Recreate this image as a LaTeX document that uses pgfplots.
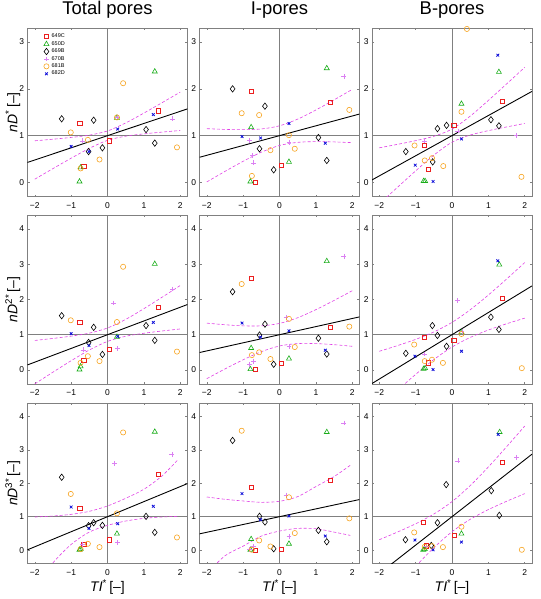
\documentclass[border=0pt]{standalone}
\usepackage{pgfplots}
\pgfplotsset{compat=1.18}
\usepackage{fontspec}
\setmainfont{Liberation Sans}
\definecolor{c649}{rgb}{0.92,0.12,0.12}
\definecolor{c650}{rgb}{0.1,0.68,0.1}
\definecolor{c669}{rgb}{0,0,0}
\definecolor{c670}{rgb}{0.86,0.5,0.95}
\definecolor{c681}{rgb}{0.97,0.64,0.12}
\definecolor{c682}{rgb}{0.05,0.05,0.85}
\definecolor{cband}{rgb}{0.88,0.25,0.9}
\definecolor{cframe}{rgb}{0.5,0.5,0.5}
\pgfplotsset{
  base/.style={
    scale only axis, width=160bp,
    xmin=-2.2, xmax=2.2,
    xtick={-2,-1,0,1,2}, xticklabels={−2,−1,0,1,2},
    tick align=inside, major tick length=2bp,
    axis line style={cframe, line width=0.5bp},
    tick style={cframe, line width=0.5bp},
    ticklabel style={font=\fontsize{8.5}{9}\selectfont},
    xticklabel style={yshift=-2.5bp},
    /pgf/number format/assume math mode=true,
    title style={font=\fontsize{18.5}{20}\selectfont, at={(axis description cs:0.5,1)}, anchor=base, yshift=7.3bp},
    ylabel style={font=\fontsize{14}{15}\selectfont, at={(axis description cs:-0.092,0.5)}, anchor=center},
    xlabel style={font=\fontsize{14}{15}\selectfont, at={(axis description cs:0.5,0)}, anchor=base, yshift=-28bp},
  },
  row1/.style={height=168.5bp, ymin=-0.3, ymax=3.3, ytick={0,1,2,3}},
  row2/.style={height=169bp, ymin=-0.4, ymax=4.4, ytick={0,1,2,3,4}},
  row3/.style={height=160.5bp, ymin=-0.4, ymax=4.4, ytick={0,1,2,3,4}},
  s649/.style={only marks, mark=square, mark size=2.1bp, color=c649, mark options={line width=0.6bp}},
  s650/.style={only marks, mark=triangle, mark size=2.9bp, color=c650, mark options={line width=0.6bp}},
  s669/.style={only marks, mark=diamond, mark size=3.2bp, color=c669, mark options={line width=0.6bp}},
  s670/.style={only marks, mark=+, mark size=2.4bp, color=c670, mark options={line width=0.6bp}},
  s681/.style={only marks, mark=o, mark size=2.6bp, color=c681, mark options={line width=0.6bp}},
  s682/.style={only marks, mark=x, mark size=1.9bp, color=c682, mark options={line width=0.8bp}},
  refl/.style={cframe, line width=0.6bp, no marks, forget plot},
  regl/.style={black, line width=0.9bp, no marks, forget plot},
  band/.style={cband, dash pattern=on 3bp off 2bp, line width=0.6bp, no marks, smooth, forget plot},
}
\begin{document}
\begin{tikzpicture}
\path[use as bounding box] (0bp,0bp) rectangle (541bp,-599bp);

% ---------------- Row 1 ----------------
\begin{axis}[base, row1, at={(27.5bp,-28bp)}, anchor=north west, title={Total pores},
  ylabel={\textit{nD}\textsuperscript{*}\,[–]},
  legend style={at={(axis description cs:0.101,0.969)}, anchor=north west, draw=none, fill=none,
    font=\fontsize{5.5}{6}\selectfont, inner sep=0pt, row sep=0.9bp, column sep=2bp,
    nodes={inner sep=0.6bp}},
  legend cell align=left,
  legend image code/.code={\draw plot coordinates {(0bp,0bp)};}]
\addplot[refl] coordinates {(-2.2,1) (2.2,1)};
\addplot[refl] coordinates {(0,-0.3) (0,3.3)};
\addplot[band] coordinates {(-2,0.89) (-1.5,0.924) (-1,0.962) (-0.5,1.011) (0,1.10) (0.5,1.271) (1,1.482) (1.5,1.704) (2,1.93)};
\addplot[band] coordinates {(-2,0.07) (-1.5,0.296) (-1,0.518) (-0.5,0.729) (0,0.90) (0.5,0.989) (1,1.038) (1.5,1.076) (2,1.11)};
\addplot[regl] coordinates {(-2.2,0.428) (2.2,1.572)};
\addplot[s649] coordinates {(-0.76,1.26) (-0.65,0.35) (0.06,0.89) (1.39,1.53)};
\addplot[s650] coordinates {(-0.77,0.02) (-0.74,0.32) (0.26,1.38) (1.30,2.37)};
\addplot[s669] coordinates {(-1.26,1.36) (-0.52,0.66) (-0.38,1.33) (-0.14,0.74) (1.06,1.13) (1.30,0.84)};
\addplot[s670] coordinates {(-0.69,0.89) (0.27,1.40) (1.78,1.36)};
\addplot[s681] coordinates {(-1.01,1.07) (-0.74,0.30) (-0.54,0.91) (-0.22,0.49) (0.26,1.39) (0.43,2.12) (1.91,0.75)};
\addplot[s682] coordinates {(-1.00,0.77) (-0.51,0.66) (0.28,1.14) (1.26,1.45)};
\legend{649C,650D,669B,670B,681B,682D}
\end{axis}

\begin{axis}[base, row1, at={(199.5bp,-28bp)}, anchor=north west, title={I-pores}]
\addplot[refl] coordinates {(-2.2,1) (2.2,1)};
\addplot[refl] coordinates {(0,-0.3) (0,3.3)};
\addplot[band] coordinates {(-2,1.149) (-1.5,1.134) (-1,1.128) (-0.5,1.143) (0,1.21) (0.5,1.353) (1,1.548) (1.5,1.764) (2,1.989)};
\addplot[band] coordinates {(-2,0.011) (-1.5,0.236) (-1,0.452) (-0.5,0.647) (0,0.79) (0.5,0.857) (1,0.872) (1.5,0.866) (2,0.851)};
\addplot[regl] coordinates {(-2.2,0.538) (2.2,1.462)};
\addplot[s649] coordinates {(-0.78,1.94) (-0.66,0.01) (0.05,0.37) (1.40,1.71)};
\addplot[s650] coordinates {(-0.78,1.18) (-0.80,0.02) (0.26,0.44) (1.30,2.44)};
\addplot[s669] coordinates {(-1.29,2.00) (-0.55,0.72) (-0.40,1.63) (-0.16,0.27) (1.07,0.96) (1.30,0.47)};
\addplot[s670] coordinates {(-0.82,0.90) (-0.74,0.57) (-0.71,0.42) (0.26,0.86) (1.77,2.26)};
\addplot[s681] coordinates {(-1.04,1.48) (-0.76,0.14) (-0.56,1.44) (-0.25,0.69) (0.26,1.01) (0.42,0.72) (1.92,1.55)};
\addplot[s682] coordinates {(-1.03,0.98) (-0.52,0.95) (0.26,1.26) (1.26,0.84)};
\end{axis}

\begin{axis}[base, row1, at={(372bp,-28bp)}, anchor=north west, title={B-pores}]
\addplot[refl] coordinates {(-2.2,1) (2.2,1)};
\addplot[refl] coordinates {(0,-0.3) (0,3.3)};
\addplot[band] coordinates {(-2,0.74) (-1.5,0.814) (-1,0.893) (-0.5,0.987) (0,1.14) (0.5,1.417) (1,1.753) (1.5,2.104) (2,2.46)};
\addplot[band] coordinates {(-2,-0.46) (-1.5,-0.104) (-1,0.247) (-0.5,0.583) (0,0.86) (0.5,1.013) (1,1.107) (1.5,1.186) (2,1.26)};
\addplot[regl] coordinates {(-2.2,0.054) (2.2,1.946)};
\addplot[s649] coordinates {(-0.77,0.79) (-0.66,0.28) (0.05,1.22) (1.38,1.73)};
\addplot[s650] coordinates {(-0.78,0.03) (-0.74,0.03) (0.26,1.68) (1.29,2.36)};
\addplot[s669] coordinates {(-1.27,0.66) (-0.53,0.44) (-0.40,1.15) (-0.15,1.22) (1.07,1.34) (1.29,1.21)};
\addplot[s670] coordinates {(-0.75,0.89) (0.16,1.10) (1.76,1.01)};
\addplot[s681] coordinates {(-1.03,0.79) (-0.75,0.47) (-0.55,0.52) (-0.24,0.35) (0.26,1.51) (0.41,3.28) (1.91,0.12)};
\addplot[s682] coordinates {(-1.01,0.37) (-0.52,0.02) (0.26,0.93) (1.26,2.72)};
\end{axis}

% ---------------- Row 2 ----------------
\begin{axis}[base, row2, at={(27.5bp,-215bp)}, anchor=north west,
  ylabel={\textit{nD}\textsuperscript{2*}\,[–]}]
\addplot[refl] coordinates {(-2.2,1) (2.2,1)};
\addplot[refl] coordinates {(0,-0.4) (0,4.4)};
\addplot[band] coordinates {(-2,0.837) (-1.5,0.894) (-1,0.959) (-0.5,1.045) (0,1.19) (0.5,1.435) (1,1.739) (1.5,2.064) (2,2.397)};
\addplot[band] coordinates {(-2,-0.397) (-1.5,-0.064) (-1,0.261) (-0.5,0.565) (0,0.81) (0.5,0.955) (1,1.041) (1.5,1.106) (2,1.163)};
\addplot[regl] coordinates {(-2.2,0.142) (2.2,1.858)};
\addplot[s649] coordinates {(-0.76,1.36) (-0.65,0.28) (0.06,0.59) (1.39,1.78)};
\addplot[s650] coordinates {(-0.77,0.01) (-0.74,0.10) (0.26,0.94) (1.30,3.01)};
\addplot[s669] coordinates {(-1.26,1.54) (-0.52,0.78) (-0.38,1.21) (-0.14,0.44) (1.06,1.26) (1.30,0.84)};
\addplot[s670] coordinates {(-0.67,0.57) (0.17,1.90) (0.28,0.60) (1.78,2.30)};
\addplot[s681] coordinates {(-1.01,1.41) (-0.74,0.20) (-0.54,0.39) (-0.22,0.25) (0.26,1.36) (0.43,2.93) (1.91,0.52)};
\addplot[s682] coordinates {(-1.00,1.03) (-0.51,0.69) (0.28,0.95) (1.26,1.35)};
\end{axis}

\begin{axis}[base, row2, at={(199.5bp,-215bp)}, anchor=north west]
\addplot[refl] coordinates {(-2.2,1) (2.2,1)};
\addplot[refl] coordinates {(0,-0.4) (0,4.4)};
\addplot[band] coordinates {(-2,1.329) (-1.5,1.283) (-1,1.252) (-0.5,1.252) (0,1.32) (0.5,1.482) (1,1.712) (1.5,1.973) (2,2.249)};
\addplot[band] coordinates {(-2,-0.249) (-1.5,0.027) (-1,0.288) (-0.5,0.518) (0,0.68) (0.5,0.748) (1,0.748) (1.5,0.717) (2,0.671)};
\addplot[regl] coordinates {(-2.2,0.494) (2.2,1.506)};
\addplot[s649] coordinates {(-0.78,2.60) (-0.66,0.01) (0.05,0.19) (1.40,1.22)};
\addplot[s650] coordinates {(-0.78,0.62) (-0.80,0.02) (0.26,0.32) (1.30,3.09)};
\addplot[s669] coordinates {(-1.29,2.22) (-0.55,0.99) (-0.40,1.30) (-0.16,0.16) (1.07,0.90) (1.30,0.45)};
\addplot[s670] coordinates {(-0.82,0.16) (-0.71,0.25) (0.18,1.49) (0.26,0.67) (1.77,3.23)};
\addplot[s681] coordinates {(-1.04,2.44) (-0.76,0.42) (-0.56,0.50) (-0.25,0.31) (0.26,1.45) (0.42,0.65) (1.92,1.23)};
\addplot[s682] coordinates {(-1.03,1.33) (-0.52,0.93) (0.26,1.11) (1.26,0.56)};
\end{axis}

\begin{axis}[base, row2, at={(372bp,-215bp)}, anchor=north west]
\addplot[refl] coordinates {(-2.2,1) (2.2,1)};
\addplot[refl] coordinates {(0,-0.4) (0,4.4)};
\addplot[band] coordinates {(-2,0.529) (-1.5,0.69) (-1,0.867) (-0.5,1.077) (0,1.35) (0.5,1.707) (1,2.127) (1.5,2.58) (2,3.049)};
\addplot[band] coordinates {(-2,-1.049) (-1.5,-0.58) (-1,-0.127) (-0.5,0.293) (0,0.65) (0.5,0.923) (1,1.133) (1.5,1.31) (2,1.471)};
\addplot[regl] coordinates {(-2.2,-0.386) (2.2,2.386)};
\addplot[s649] coordinates {(-0.77,0.92) (-0.66,0.20) (0.05,0.84) (1.38,2.04)};
\addplot[s650] coordinates {(-0.78,0.03) (-0.74,0.05) (0.26,1.07) (1.30,2.99)};
\addplot[s669] coordinates {(-1.27,0.47) (-0.54,1.26) (-0.40,0.98) (-0.15,0.67) (1.07,1.50) (1.29,1.15)};
\addplot[s670] coordinates {(-0.75,0.45) (0.15,1.97) (0.27,1.10)};
\addplot[s681] coordinates {(-1.04,0.72) (-0.75,0.25) (-0.55,0.29) (-0.25,0.20) (0.26,1.02) (1.92,0.05)};
\addplot[s682] coordinates {(-1.02,0.39) (-0.52,0.01) (0.26,0.53) (1.26,3.10)};
\end{axis}

% ---------------- Row 3 ----------------
\begin{axis}[base, row3, at={(27.5bp,-403bp)}, anchor=north west,
  ylabel={\textit{nD}\textsuperscript{3*}\,[–]}, xlabel={\textit{TI}\textsuperscript{*}\,[–]}]
\addplot[refl] coordinates {(-2.2,1) (2.2,1)};
\addplot[refl] coordinates {(0,-0.4) (0,4.4)};
\addplot[band] coordinates {(-2,0.99) (-1.5,1.02) (-1,1.07) (-0.5,1.16) (0,1.32) (0.5,1.55) (1,1.82) (1.5,2.22) (1.95,2.72)};
\addplot[band] coordinates {(-2,-1.1) (-1.5,-0.38) (-1,0.17) (-0.5,0.54) (0,0.74) (0.5,0.87) (1,0.95) (1.5,0.99) (1.95,1.01)};
\addplot[regl] coordinates {(-2.2,0.01) (2.2,1.99)};
\addplot[s649] coordinates {(-0.76,1.26) (-0.65,0.18) (0.06,0.31) (1.39,2.26)};
\addplot[s650] coordinates {(-0.77,0.01) (-0.74,0.03) (0.26,0.49) (1.30,3.54)};
\addplot[s669] coordinates {(-1.26,2.18) (-0.52,0.73) (-0.38,0.82) (-0.14,0.74) (1.06,1.01) (1.30,0.53)};
\addplot[s670] coordinates {(-0.69,0.18) (0.19,2.59) (0.28,0.23) (1.77,2.87)};
\addplot[s681] coordinates {(-1.01,1.68) (-0.74,0.03) (-0.54,0.19) (-0.22,0.09) (0.26,1.10) (0.43,3.52) (1.91,0.38)};
\addplot[s682] coordinates {(-1.00,1.29) (-0.51,0.65) (0.28,0.79) (1.26,1.31)};
\end{axis}

\begin{axis}[base, row3, at={(199.5bp,-403bp)}, anchor=north west,
  xlabel={\textit{TI}\textsuperscript{*}\,[–]}]
\addplot[refl] coordinates {(-2.2,1) (2.2,1)};
\addplot[refl] coordinates {(0,-0.4) (0,4.4)};
\addplot[band] coordinates {(-2,1.59) (-1.5,1.52) (-1,1.47) (-0.5,1.43) (0,1.46) (0.5,1.6) (1,1.9) (1.5,2.2) (1.95,2.54)};
\addplot[band] coordinates {(-2,-0.7) (-1.5,-0.17) (-1,0.12) (-0.5,0.42) (0,0.57) (0.5,0.65) (1,0.64) (1.5,0.54) (1.95,0.44)};
\addplot[regl] coordinates {(-2.2,0.487) (2.2,1.513)};
\addplot[s649] coordinates {(-0.78,1.89) (-0.66,0.00) (0.05,0.03) (1.40,2.10)};
\addplot[s650] coordinates {(-0.78,0.33) (-0.80,0.01) (0.26,0.19) (1.30,3.53)};
\addplot[s669] coordinates {(-1.29,3.28) (-0.55,1.01) (-0.40,0.84) (-0.16,0.04) (1.07,0.59) (1.30,0.25)};
\addplot[s670] coordinates {(-0.82,0.01) (-0.71,0.11) (0.18,1.65) (0.26,0.40) (1.77,3.80)};
\addplot[s681] coordinates {(-1.04,3.57) (-0.76,0.01) (-0.56,0.29) (-0.25,0.11) (0.26,1.58) (0.42,0.51) (1.92,0.95)};
\addplot[s682] coordinates {(-1.03,1.69) (-0.52,0.91) (0.26,1.02) (1.26,0.42)};
\end{axis}

\begin{axis}[base, row3, at={(372bp,-403bp)}, anchor=north west,
  xlabel={\textit{TI}\textsuperscript{*}\,[–]}]
\addplot[refl] coordinates {(-2.2,1) (2.2,1)};
\addplot[refl] coordinates {(0,-0.4) (0,4.4)};
\addplot[band] coordinates {(-2,0.311) (-1.5,0.54) (-1,0.788) (-0.5,1.079) (0,1.45) (0.5,1.929) (1,2.488) (1.5,3.09) (2,3.711)};
\addplot[band] coordinates {(-2,-1.711) (-1.5,-1.09) (-1,-0.488) (-0.5,0.071) (0,0.55) (0.5,0.921) (1,1.212) (1.5,1.46) (2,1.689)};
\addplot[regl] coordinates {(-2.2,-0.87) (2.2,2.87)};
\addplot[s649] coordinates {(-0.78,0.84) (-0.70,0.13) (0.06,0.45) (1.39,2.63)};
\addplot[s650] coordinates {(-0.79,0.01) (-0.75,0.03) (0.26,0.49) (1.31,3.53)};
\addplot[s669] coordinates {(-1.28,0.31) (-0.57,0.14) (-0.40,0.82) (-0.16,1.96) (1.08,1.78) (1.30,1.04)};
\addplot[s670] coordinates {(-0.70,0.12) (0.16,2.67) (1.78,2.78)};
\addplot[s681] coordinates {(-1.04,0.53) (-0.75,0.10) (-0.55,0.12) (-0.25,0.09) (0.26,0.70) (1.92,0.01)};
\addplot[s682] coordinates {(-1.02,0.30) (-0.52,0.01) (0.26,0.24) (1.27,3.46)};
\end{axis}
\end{tikzpicture}
\end{document}
